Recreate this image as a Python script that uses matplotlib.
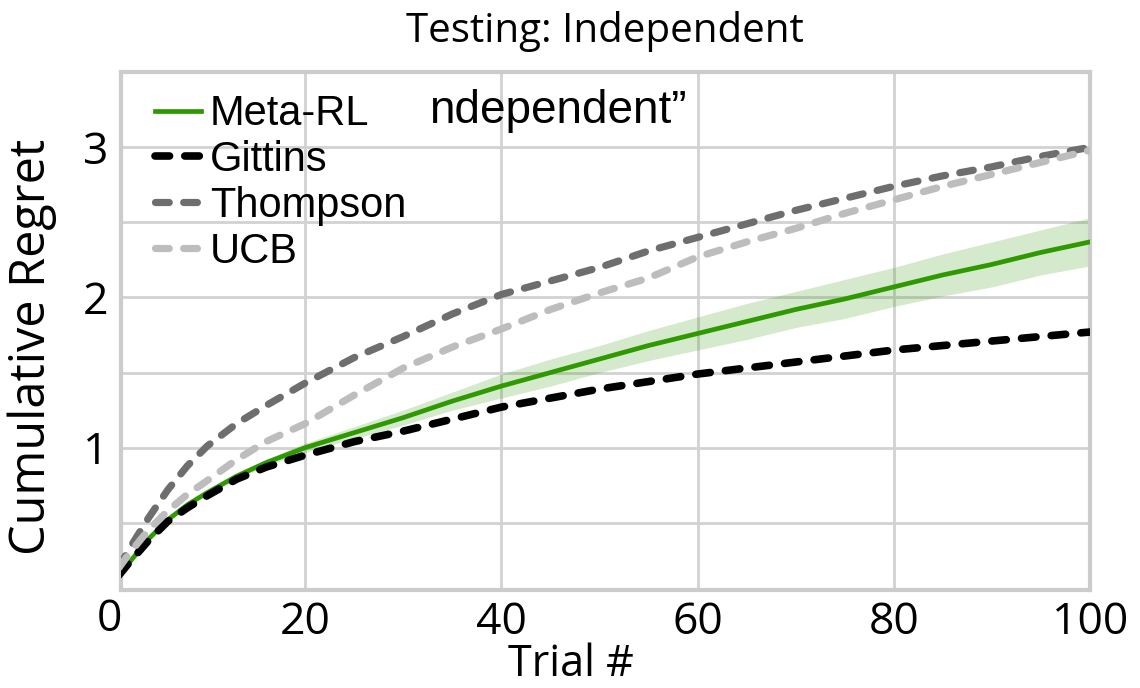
import numpy as np
import matplotlib
matplotlib.use("Agg")
import matplotlib.pyplot as plt
from matplotlib.transforms import blended_transform_factory

# cumulative regret per trial, independent bandit test set
trials = [1, 2, 4, 6, 8, 10, 13, 16, 20, 25, 30, 35, 40, 45, 50,
          55, 60, 65, 70, 75, 80, 85, 90, 95, 100]
meta_rl = [0.15, 0.23, 0.39, 0.52, 0.62, 0.70, 0.81, 0.90, 1.00, 1.10, 1.20, 1.31, 1.41,
           1.50, 1.59, 1.68, 1.76, 1.84, 1.92, 1.99, 2.07, 2.15, 2.22, 2.30, 2.37]
meta_rl_err = [0.01, 0.01, 0.01, 0.01, 0.01, 0.01, 0.02, 0.02, 0.03, 0.04, 0.05, 0.06, 0.08,
               0.09, 0.09, 0.10, 0.11, 0.12, 0.12, 0.13, 0.13, 0.14, 0.15, 0.15, 0.16]
gittins = [0.15, 0.23, 0.38, 0.51, 0.60, 0.68, 0.79, 0.87, 0.95, 1.04, 1.11, 1.19, 1.27,
           1.33, 1.39, 1.44, 1.49, 1.53, 1.57, 1.61, 1.65, 1.68, 1.71, 1.74, 1.77]
thompson = [0.20, 0.32, 0.53, 0.72, 0.88, 1.01, 1.16, 1.28, 1.43, 1.60, 1.74, 1.89, 2.02,
            2.11, 2.20, 2.31, 2.40, 2.49, 2.58, 2.66, 2.74, 2.81, 2.87, 2.94, 3.00]
ucb = [0.20, 0.29, 0.45, 0.58, 0.69, 0.78, 0.92, 1.04, 1.16, 1.35, 1.53, 1.67, 1.79,
       1.92, 2.03, 2.13, 2.27, 2.37, 2.46, 2.56, 2.65, 2.74, 2.82, 2.90, 2.98]

x_ticks = [20, 40, 60, 80, 100]
y_ticks = [1, 2, 3]

txt_font = ['Open Sans', 'DejaVu Sans']
leg_font = ['Liberation Sans', 'DejaVu Sans']

fig = plt.figure(figsize=(11.4, 6.88), dpi=100)
ax = fig.add_axes([0.106, 0.142, 0.850, 0.753])

green = '#2e9a00'
x = np.array(trials)
m = np.array(meta_rl)
e = np.array(meta_rl_err)
ax.fill_between(x, m - e, m + e, color=green, alpha=0.2, linewidth=0, zorder=2)
ax.plot(x, m, color=green, lw=3.4, label='Meta-RL', zorder=3)

dash = (1.9, 2.0)
ax.plot(x, gittins, color='black', lw=5.5, dashes=dash, dash_capstyle='round',
        label='Gittins', zorder=4)
ax.plot(x, thompson, color='#6e6e6e', lw=5.2, dashes=dash, dash_capstyle='round',
        label='Thompson', zorder=5)
ax.plot(x, ucb, color='#bdbdbd', lw=5.2, dashes=dash, dash_capstyle='round',
        label='UCB', zorder=6)

ax.set_xlim(1.2, 100)
ax.set_ylim(0.05, 3.5)
ax.set_xticks(x_ticks)
ax.set_yticks(y_ticks)
ax.set_yticks([0.5, 1.5, 2.5], minor=True)
ax.tick_params(which='both', length=0)
ax.tick_params(axis='x', pad=7)
ax.tick_params(axis='y', pad=9)
for lab in ax.get_xticklabels() + ax.get_yticklabels():
    lab.set_family(txt_font)
    lab.set_fontsize(32)
ax.grid(True, which='both', color='#d2d2d2', lw=2.0)
ax.set_axisbelow(True)
for s in ax.spines.values():
    s.set_color('#cccccc')
    s.set_linewidth(3.0)

# "0" label sits left of the axis start
trans = blended_transform_factory(ax.transData, ax.transAxes)
ax.text(0, -0.0135, '0', transform=trans, ha='center', va='top',
        family=txt_font, fontsize=32)

ax.set_xlabel('Trial #', family=txt_font, fontsize=31)
ax.xaxis.set_label_coords(0.465, -0.100)
ax.set_ylabel('Cumulative Regret', family=txt_font, fontsize=35)
ax.yaxis.set_label_coords(-0.066, 0.469)
ax.set_title('Testing: Independent', family=txt_font, fontsize=29, pad=22)

leg = ax.legend(loc='upper left', frameon=False, prop={'family': leg_font, 'size': 30},
                handlelength=1.1, handletextpad=0.22, labelspacing=0.14,
                borderaxespad=0.0, bbox_to_anchor=(0.018, 0.99))
ax.text(0.318, 0.925, 'ndependent\u201d', transform=ax.transAxes, ha='left',
        va='center', family=leg_font, fontsize=33)

fig.savefig('out.png', dpi=100)
